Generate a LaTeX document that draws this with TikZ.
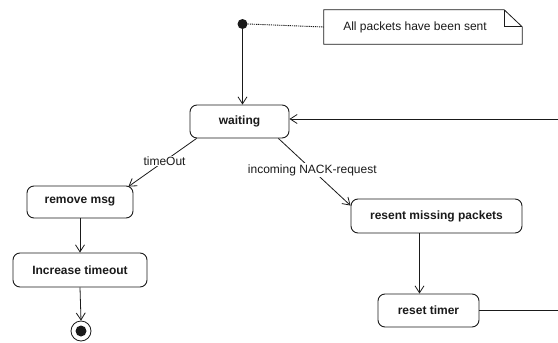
\documentclass[tikz,border=0pt]{standalone}
\usepackage{fontspec}
\setmainfont{Liberation Sans}
\usetikzlibrary{arrows.meta,calc}
\definecolor{ink}{HTML}{1A1A1A}
\tikzset{
  x=1pt, y=-1pt,
  every node/.style={font=\fontsize{12}{14}\selectfont, text=ink},
  statebox/.style={draw=ink, line width=0.9pt, rounded corners=7pt, inner sep=0pt, font=\fontsize{12}{14}\selectfont\bfseries},
  conn/.style={draw=ink, line width=0.8pt, -{Straight Barb[length=7pt,width=9pt]}},
  plainline/.style={draw=ink, line width=0.8pt},
  edgelabel/.style={fill=white, inner sep=1pt},
}
\begin{document}
\begin{tikzpicture}
\useasboundingbox (0,0) rectangle (558,343);
% initial node
\node (init) [circle, fill=ink, minimum size=10pt, inner sep=0pt] at (242.5,24) {};
% note
\node (note) [minimum width=198pt, minimum height=34pt, inner sep=0pt] at (423,27) {};
\node (notetext) at ([xshift=-8pt]note.center) {All packets have been sent};
\draw[plainline] (note.north west) -- ([xshift=-18pt]note.north east) -- ([yshift=-17pt]note.north east) -- (note.south east) -- (note.south west) -- cycle;
\draw[plainline] ([xshift=-18pt]note.north east) -- ([xshift=-18pt,yshift=-17pt]note.north east) -- ([yshift=-17pt]note.north east);
\draw[ink, line width=0.9pt, dash pattern=on 1.2pt off 0.9pt] (init.east) -- (note.west);
% states
\node (waiting) [statebox, minimum width=99pt, minimum height=33pt] at (239.5,121.5) {waiting};
\node (remove) [statebox, minimum width=106pt, minimum height=32pt] at (80,202) {remove msg};
\node (increase) [statebox, minimum width=134pt, minimum height=34pt] at (80,270) {Increase timeout};
\node (resent) [statebox, minimum width=171pt, minimum height=34pt] at (436.5,216) {resent missing packets};
\node (reset) [statebox, minimum width=101pt, minimum height=33pt] at (428.5,310.5) {reset timer};
% final node
\node (final) [circle, draw=ink, line width=0.8pt, minimum size=20pt, inner sep=0pt] at (81,331) {};
\node (finalin) [circle, fill=ink, minimum size=11pt, inner sep=0pt] at (final.center) {};
% free ends at right edge
\coordinate (rhigh) at (558,119);
\coordinate (rlow) at (558,310.5);
% connectors
\draw[conn] (init.south) -- (init.south |- waiting.north);
\draw[conn] ([xshift=7pt]waiting.south west) -- node[edgelabel, pos=0.47] {timeOut} ([xshift=-5pt,yshift=-1pt]remove.north east);
\draw[conn] ([xshift=-11pt]waiting.south east) -- node[edgelabel, pos=0.47] {incoming NACK-request} ([yshift=-7pt]resent.north west);
\draw[conn] (remove.south) -- (increase.north);
\draw[conn] (increase.south) -- (final.north);
\draw[conn] ([xshift=-17pt]resent.south) -- ([xshift=-17pt]resent.south |- reset.north);
\draw[plainline] (reset.east) -- (rlow);
\draw[conn] (rhigh) -- (rhigh -| waiting.east);
\end{tikzpicture}
\end{document}
